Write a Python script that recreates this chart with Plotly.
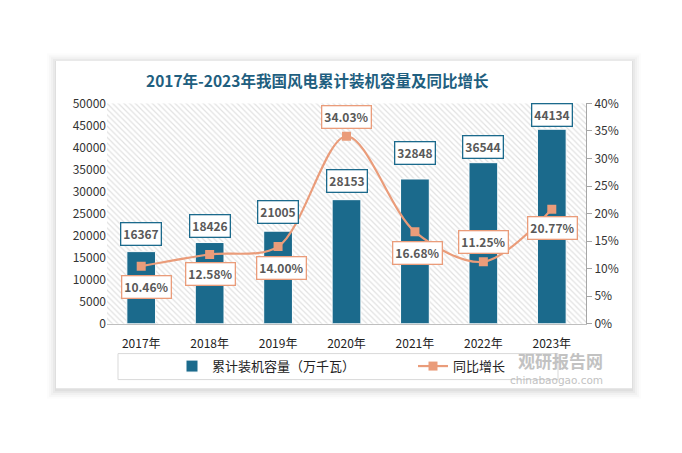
import plotly.graph_objects as go

years = ["2017年", "2018年", "2019年", "2020年", "2021年", "2022年", "2023年"]
capacity = [16367, 18426, 21005, 28153, 32848, 36544, 44134]
growth = [10.46, 12.58, 14.00, 34.03, 16.68, 11.25, 20.77]

W, H = 682, 453
def px(x): return x / W
def py(y): return 1 - y / H

BAR = "#1B6A8C"
LINE = "#EA9C7A"
TXT = "#595959"
FONT = "Noto Sans CJK SC"
YMAX = 50000

fig = go.Figure()

# hatched plot background
fig.add_trace(go.Bar(x=[years[3]], y=[YMAX], width=[len(years)], showlegend=False,
                     hoverinfo="skip",
                     marker=dict(color="white", line=dict(width=0),
                                 pattern=dict(shape="\\", fgcolor="#c4c4c4", bgcolor="white",
                                              size=4, solidity=0.3))))

fig.add_trace(go.Bar(x=years, y=capacity, name="累计装机容量（万千瓦）", width=0.42,
                     marker=dict(color=BAR, line=dict(color="white", width=1))))

fig.add_trace(go.Scatter(x=years, y=[g / 100 for g in growth], name="同比增长", yaxis="y2",
                         mode="lines+markers", line=dict(color=LINE, width=2.2, shape="spline", smoothing=0.9),
                         marker=dict(symbol="square", size=9, color=LINE)))

bar_shift = [18, 17, 19, 19, 26, 16, 14]
line_yshift = [-21, -20, -21, 19, -21, 20, -19]
line_xshift = [5, 1, 3, 0, 3, 0, 1]

ann = []
for i, (c, v) in enumerate(zip(years, capacity)):
    ann.append(dict(x=c, y=v, xref="x", yref="y", text=f"<b>{v}</b>", showarrow=False,
                    yshift=bar_shift[i], font=dict(family=FONT, size=12, color=TXT),
                    bgcolor="white", bordercolor=BAR, borderwidth=1.3, borderpad=2))
for i, (c, g) in enumerate(zip(years, growth)):
    ann.append(dict(x=c, y=g / 100, xref="x", yref="y2", text=f"<b>{g:.2f}%</b>", showarrow=False,
                    yshift=line_yshift[i], xshift=line_xshift[i], font=dict(family=FONT, size=12, color=TXT),
                    bgcolor="white", bordercolor=LINE, borderwidth=1.3, borderpad=2))

ann.append(dict(x=px(317), y=py(73), xref="paper", yref="paper", xanchor="center", yanchor="middle",
                text="<b>2017年-2023年我国风电累计装机容量及同比增长</b>", showarrow=False,
                font=dict(family=FONT, size=15.5, color="#1F5F80")))
ann.append(dict(x=px(560), y=py(364), xref="paper", yref="paper", xanchor="center", yanchor="middle",
                text="<b>观研报告网</b>",
                showarrow=False, font=dict(family=FONT, size=17, color="#b8b8b8"), opacity=0.85))
ann.append(dict(x=px(556), y=py(384), xref="paper", yref="paper", xanchor="center", yanchor="middle",
                text="chinabaogao.com",
                showarrow=False, font=dict(family="DejaVu Sans", size=10.5, color="#b8b8b8"), opacity=0.85))

shapes = []
# soft card shadow
for d, op in [(9, 0.012), (7, 0.018), (5, 0.024), (3, 0.03), (1, 0.04)]:
    shapes.append(dict(type="rect", xref="paper", yref="paper", layer="below",
                       x0=px(56 - d), x1=px(632 + d), y0=py(393 + d + 2), y1=py(53 - d + 1),
                       fillcolor=f"rgba(0,0,0,{op})", line=dict(width=0)))
shapes.append(dict(type="rect", xref="paper", yref="paper", layer="below",
                   x0=px(56), x1=px(632), y0=py(393), y1=py(53),
                   fillcolor="white", line=dict(width=0)))
# legend box
shapes.append(dict(type="rect", xref="paper", yref="paper", layer="below",
                   x0=px(118), x1=px(558), y0=py(384), y1=py(357),
                   fillcolor="white", line=dict(color="#d9d9d9", width=1)))

fig.update_layout(
    width=W, height=H, margin=dict(l=0, r=0, t=0, b=0),
    paper_bgcolor="white", plot_bgcolor="rgba(0,0,0,0)",
    barmode="overlay", showlegend=True,
    font=dict(family=FONT, size=12, color="#333333"),
    xaxis=dict(domain=[px(107), px(586)], type="category", range=[-0.5, 6.5],
               categoryorder="array", categoryarray=years,
               showline=True, linecolor="#bfbfbf", linewidth=1, ticks="", ticklabelstandoff=9,
               tickfont=dict(family=FONT, size=12, color="#222222"), showgrid=False),
    yaxis=dict(domain=[py(326), py(97)], range=[0, YMAX], dtick=5000, tickformat="d", showgrid=False,
               showline=False, ticks="", zeroline=False,
               tickfont=dict(family=FONT, size=12, color="#333333")),
    yaxis2=dict(overlaying="y", side="right", range=[0, 0.4], dtick=0.05, tickformat=".0%",
                showgrid=False, showline=True, linecolor="#a6a6a6", ticks="outside", ticklen=5,
                tickcolor="#a6a6a6", zeroline=False, anchor="x",
                tickfont=dict(family=FONT, size=12, color="#333333")),
    legend=dict(orientation="h", x=px(172), y=py(370), xanchor="left", yanchor="middle",
                bgcolor="rgba(0,0,0,0)", font=dict(family=FONT, size=13, color="#222222"),
                entrywidth=196, entrywidthmode="pixels"),
    annotations=ann, shapes=shapes,
)

css = ("var s=document.createElement('style');"
       "s.textContent='html,body{margin:0!important;padding:0!important;overflow:hidden!important;"
       "width:682px;height:453px;}';document.head.appendChild(s);")
fig.write_html("out.html", config={"displayModeBar": False}, post_script=css)
